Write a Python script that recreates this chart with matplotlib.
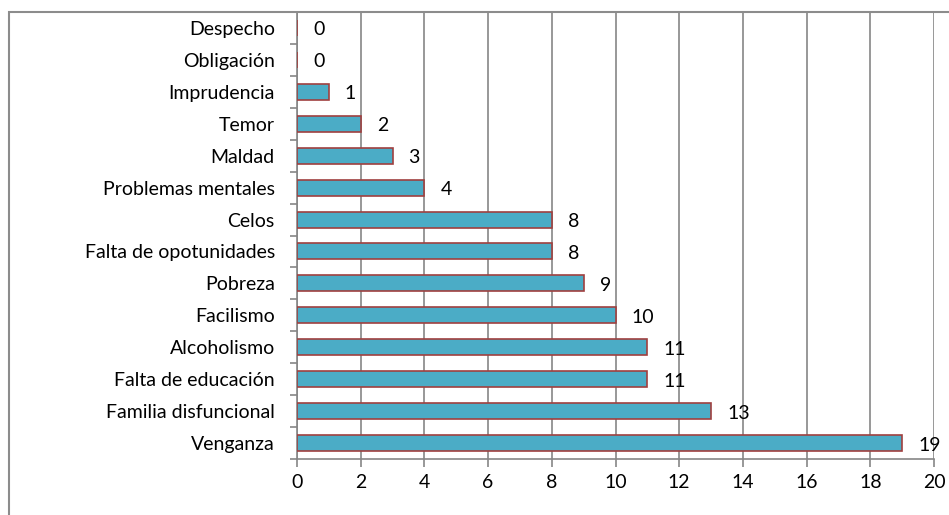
import matplotlib
matplotlib.use("Agg")
import matplotlib.pyplot as plt
from matplotlib.patches import Rectangle
import numpy as np

# Data (top to bottom as in the chart)
causas = ["Despecho", "Obligación", "Imprudencia", "Temor", "Maldad",
          "Problemas mentales", "Celos", "Falta de opotunidades", "Pobreza",
          "Facilismo", "Alcoholismo", "Falta de educación",
          "Familia disfuncional", "Venganza"]
valores = [0, 0, 1, 2, 3, 4, 8, 8, 9, 10, 11, 11, 13, 19]
x_ticks = list(range(0, 21, 2))

plt.rcParams['font.family'] = ['Lato', 'DejaVu Sans']
FS = 14

fig = plt.figure(figsize=(9.49, 5.15), dpi=100)
ax = fig.add_axes([297 / 949, 1 - 459 / 515, 637 / 949, 447 / 515])

# outer chart border
fig.patches.append(Rectangle((9 / 949, -0.1), 1.2, 1 - 12 / 515 + 0.1,
                             transform=fig.transFigure, fill=False,
                             edgecolor="#8c8c8c", linewidth=1.5))

y = np.arange(len(causas))[::-1]
ax.barh(y, valores, height=0.5, color="#4BACC6", edgecolor="#A0403F",
        linewidth=1.2, zorder=3)

for yi, v in zip(y, valores):
    ax.annotate(str(v), (v, yi), xytext=(16, -2), textcoords="offset pixels",
                ha="left", va="center", fontsize=FS, color="black")

ax.set_xlim(0, 20)
ax.set_ylim(-0.5, len(causas) - 0.5)
ax.set_xticks(x_ticks)
ax.set_xticklabels([str(t) for t in x_ticks], fontsize=FS)
ax.set_yticks(y)
ax.set_yticklabels(causas, fontsize=FS)
ax.set_yticks(np.arange(-0.5, len(causas), 1), minor=True)

ax.tick_params(axis="y", which="major", length=0, pad=16)
ax.tick_params(axis="y", which="minor", length=5, color="#868686", width=1.2)
ax.tick_params(axis="x", length=6, color="#868686", width=1.2, pad=5)

ax.grid(axis="x", color="#868686", linewidth=1.2, zorder=0)
ax.set_axisbelow(True)
for s in ["top", "right"]:
    ax.spines[s].set_visible(False)
for s in ["left", "bottom"]:
    ax.spines[s].set_color("#868686")
    ax.spines[s].set_linewidth(1.2)

fig.savefig("out.png", dpi=100)
